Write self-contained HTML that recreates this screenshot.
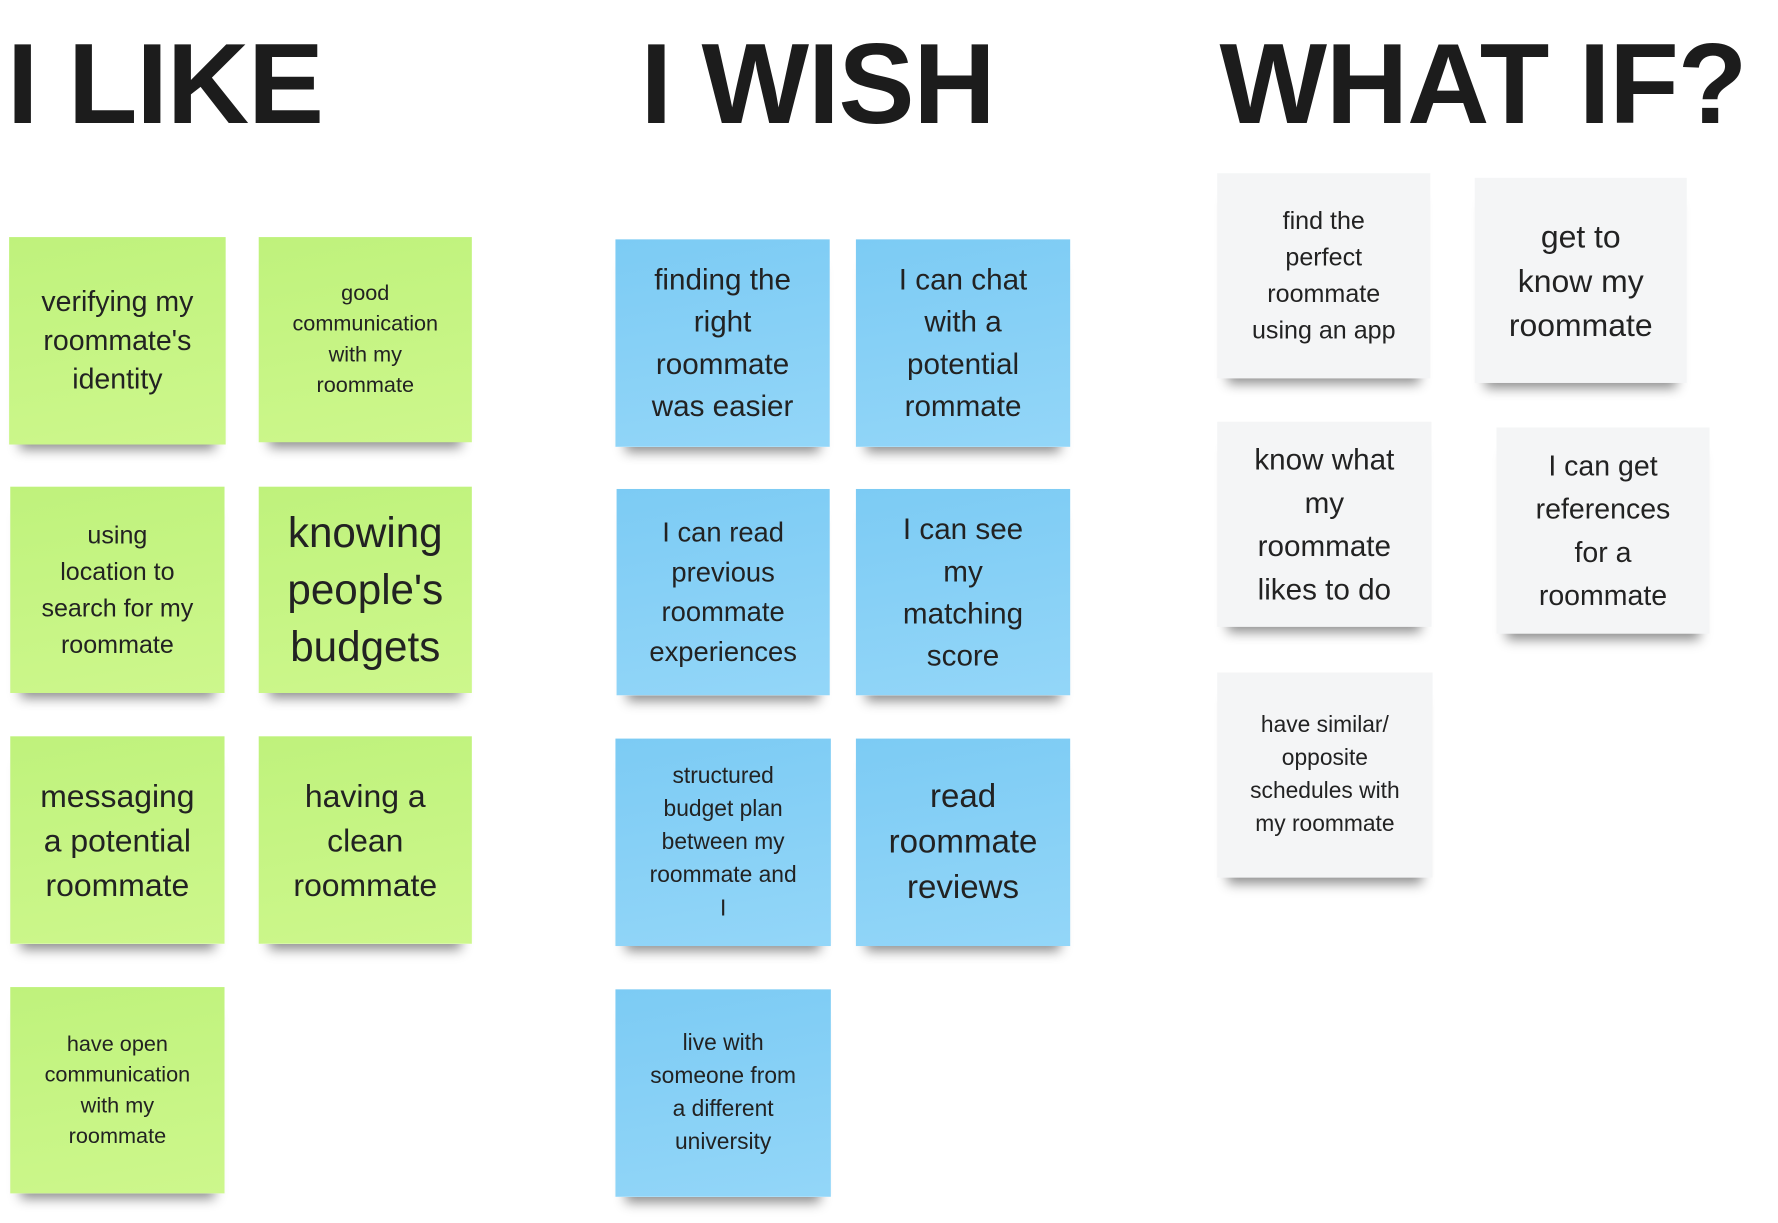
<!DOCTYPE html>
<html><head><meta charset="utf-8"><style>
html,body{margin:0;padding:0;background:#fff;width:1778px;height:1223px;overflow:hidden}
#c{position:absolute;left:0;top:0;width:1560px;height:1073px;transform:scale(1.1397,1.1398);transform-origin:0 0;font-family:"Liberation Sans",sans-serif}
h1{position:absolute;margin:0;font-weight:bold;font-size:100px;line-height:1;color:#1c1c1c;letter-spacing:-1px;top:24px;white-space:nowrap}
.n{position:absolute;display:flex;align-items:center;justify-content:center;text-align:center;color:#222;box-shadow:0 14px 10px -9px rgba(0,0,0,.45)}
.g{background:linear-gradient(170deg,#bff27c,#cdf78c)}
.b{background:linear-gradient(170deg,#7ccbf4,#93d6f8)}
.w{background:#f4f5f6}
</style></head><body><div id="c">
<h1 style="left:6px">I LIKE</h1>
<h1 style="left:562px">I WISH</h1>
<h1 style="left:1070px">WHAT IF?</h1>

<div class="n g" style="left:8px;top:208px;width:190px;height:182px;font-size:25px;line-height:34px">verifying my<br>roommate's<br>identity</div>
<div class="n g" style="left:227px;top:208px;width:187px;height:180px;font-size:19px;line-height:27px">good<br>communication<br>with my<br>roommate</div>
<div class="n g" style="left:9px;top:427px;width:188px;height:181px;font-size:22px;line-height:32px">using<br>location to<br>search for my<br>roommate</div>
<div class="n g" style="left:227px;top:427px;width:187px;height:181px;font-size:37px;line-height:50px">knowing<br>people's<br>budgets</div>
<div class="n g" style="left:9px;top:646px;width:188px;height:182px;font-size:28px;line-height:39px">messaging<br>a potential<br>roommate</div>
<div class="n g" style="left:227px;top:646px;width:187px;height:182px;font-size:28px;line-height:39px">having a<br>clean<br>roommate</div>
<div class="n g" style="left:9px;top:866px;width:188px;height:181px;font-size:19px;line-height:27px">have open<br>communication<br>with my<br>roommate</div>

<div class="n b" style="left:540px;top:210px;width:188px;height:182px;font-size:26px;line-height:37px">finding the<br>right<br>roommate<br>was easier</div>
<div class="n b" style="left:751px;top:210px;width:188px;height:182px;font-size:26px;line-height:37px">I can chat<br>with a<br>potential<br>rommate</div>
<div class="n b" style="left:541px;top:429px;width:187px;height:181px;font-size:24px;line-height:35px">I can read<br>previous<br>roommate<br>experiences</div>
<div class="n b" style="left:751px;top:429px;width:188px;height:181px;font-size:26px;line-height:37px">I can see<br>my<br>matching<br>score</div>
<div class="n b" style="left:540px;top:648px;width:189px;height:182px;font-size:20px;line-height:29px">structured<br>budget plan<br>between my<br>roommate and<br>I</div>
<div class="n b" style="left:751px;top:648px;width:188px;height:182px;font-size:29px;line-height:40px">read<br>roommate<br>reviews</div>
<div class="n b" style="left:540px;top:868px;width:189px;height:182px;font-size:20px;line-height:29px">live with<br>someone from<br>a different<br>university</div>

<div class="n w" style="left:1068px;top:152px;width:187px;height:180px;font-size:22px;line-height:32px">find the<br>perfect<br>roommate<br>using an app</div>
<div class="n w" style="left:1294px;top:156px;width:186px;height:180px;font-size:28px;line-height:39px">get to<br>know my<br>roommate</div>
<div class="n w" style="left:1068px;top:370px;width:188px;height:180px;font-size:26px;line-height:38px">know what<br>my<br>roommate<br>likes to do</div>
<div class="n w" style="left:1313px;top:375px;width:187px;height:181px;font-size:25px;line-height:38px">I can get<br>references<br>for a<br>roommate</div>
<div class="n w" style="left:1068px;top:590px;width:189px;height:180px;font-size:20px;line-height:29px">have similar/<br>opposite<br>schedules with<br>my roommate</div>
</div></body></html>
